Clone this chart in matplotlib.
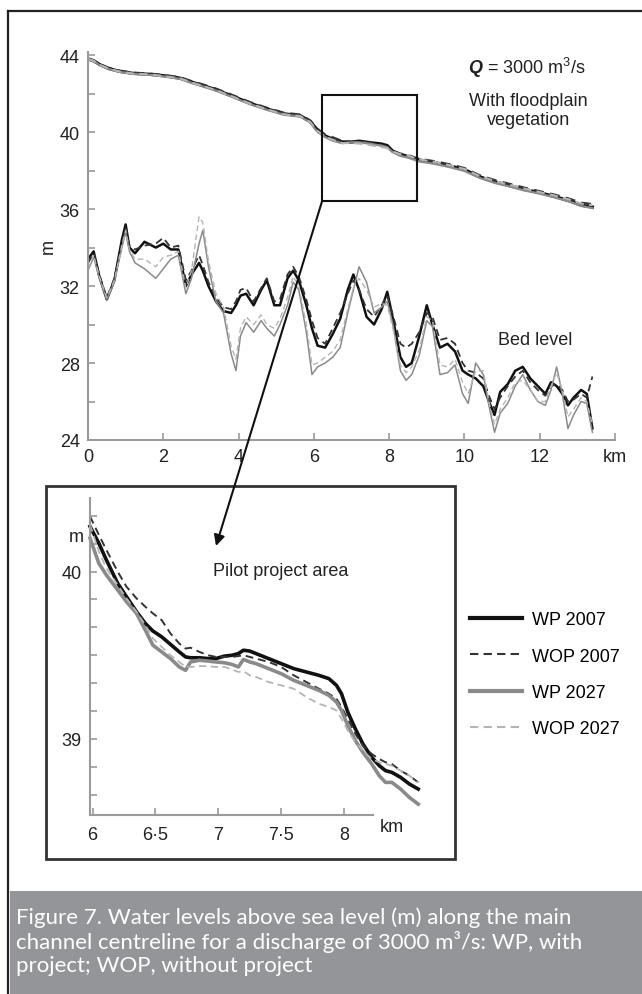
import matplotlib
matplotlib.use("Agg")
import matplotlib.pyplot as plt
import numpy as np
from matplotlib.patches import Rectangle, ConnectionPatch
from matplotlib.lines import Line2D
from matplotlib.ticker import MultipleLocator

plt.rcParams['font.family'] = ['Liberation Sans', 'DejaVu Sans']
plt.rcParams['mathtext.fontset'] = 'custom'
plt.rcParams['mathtext.rm'] = 'Liberation Sans'
plt.rcParams['mathtext.it'] = 'Liberation Sans:italic'
plt.rcParams['mathtext.bf'] = 'Liberation Sans:bold'
plt.rcParams['mathtext.bfit'] = 'Liberation Sans:italic:bold'

# ---- water levels, whole reach (km, m) ----
wl_km = [0.0, 0.15, 0.32, 0.55, 0.85, 1.2, 1.65, 2.05, 2.45, 2.75, 3.0, 3.4, 3.86, 4.3,
         4.76, 5.2, 5.64, 5.9, 6.1, 6.3, 6.5, 6.75, 7.0, 7.2, 7.5, 7.8, 7.95, 8.1, 8.3,
         8.5, 8.8, 9.2, 9.6, 10.0, 10.4, 10.8, 11.2, 11.6, 12.0, 12.4, 12.8, 13.1, 13.4]
wl_wp07 = [43.8, 43.7, 43.5, 43.3, 43.15, 43.05, 43.0, 42.92, 42.8, 42.6, 42.45, 42.2, 41.85,
           41.5, 41.2, 40.95, 40.85, 40.55, 40.1, 39.8, 39.63, 39.49, 39.48, 39.53, 39.45,
           39.38, 39.3, 39.0, 38.83, 38.74, 38.55, 38.42, 38.25, 38.05, 37.68, 37.42, 37.22,
           37.02, 36.85, 36.65, 36.42, 36.2, 36.1]
wl_wop07 = [43.82, 43.72, 43.52, 43.33, 43.18, 43.08, 43.03, 42.95, 42.84, 42.64, 42.5, 42.25,
            41.9, 41.55, 41.25, 41.0, 40.9, 40.6, 40.15, 39.86, 39.72, 39.53, 39.49, 39.5,
            39.44, 39.31, 39.23, 39.02, 38.87, 38.8, 38.6, 38.48, 38.32, 38.12, 37.75, 37.5,
            37.3, 37.1, 36.92, 36.74, 36.52, 36.32, 36.25]
wl_wp27 = [43.78, 43.68, 43.47, 43.27, 43.12, 43.02, 42.97, 42.88, 42.76, 42.55, 42.4, 42.15,
           41.8, 41.45, 41.15, 40.9, 40.8, 40.5, 40.0, 39.74, 39.55, 39.42, 39.46, 39.47,
           39.39, 39.29, 39.2, 38.95, 38.76, 38.67, 38.47, 38.35, 38.18, 37.98, 37.62, 37.36,
           37.17, 36.96, 36.8, 36.6, 36.38, 36.16, 36.05]
wl_wop27 = [43.8, 43.7, 43.49, 43.3, 43.14, 43.04, 42.99, 42.9, 42.79, 42.58, 42.43, 42.18,
            41.83, 41.48, 41.18, 40.93, 40.83, 40.52, 40.05, 39.76, 39.6, 39.43, 39.43, 39.4,
            39.32, 39.21, 39.17, 38.98, 38.85, 38.78, 38.58, 38.45, 38.28, 38.08, 37.72, 37.46,
            37.26, 37.06, 36.88, 36.7, 36.48, 36.28, 36.2]

# ---- bed levels ----
bed_km = [0.0, 0.15, 0.3, 0.5, 0.7, 0.9, 1.0, 1.1, 1.25, 1.5, 1.8, 2.0, 2.2, 2.4, 2.6, 2.75,
          2.95, 3.05, 3.2, 3.4, 3.6, 3.8, 3.93, 4.05, 4.2, 4.4, 4.6, 4.75, 4.95, 5.1, 5.3,
          5.45, 5.6, 5.8, 5.95, 6.1, 6.3, 6.5, 6.7, 6.9, 7.05, 7.2, 7.4, 7.6, 7.8, 7.95, 8.1,
          8.3, 8.45, 8.6, 8.8, 9.0, 9.15, 9.35, 9.55, 9.75, 9.95, 10.1, 10.3, 10.5, 10.65,
          10.8, 10.95, 11.15, 11.35, 11.55, 11.75, 11.95, 12.15, 12.3, 12.45, 12.6, 12.75,
          12.9, 13.1, 13.25, 13.4]
bed_wp07 = [33.4, 33.8, 32.5, 31.3, 32.3, 34.4, 35.2, 34.0, 33.7, 34.3, 34.0, 34.2, 33.9, 33.9,
            32.0, 32.6, 33.2, 32.8, 32.0, 31.2, 30.7, 30.6, 31.0, 31.5, 31.6, 31.0, 31.8, 32.3,
            31.0, 31.0, 32.4, 32.8, 32.3, 31.0, 29.8, 28.9, 28.8, 29.5, 30.3, 31.8, 32.6, 31.8,
            30.4, 30.0, 30.8, 31.7, 30.3, 28.3, 27.8, 28.0, 29.4, 31.0, 30.0, 28.8, 29.0, 28.6,
            27.6, 27.4, 27.2, 26.8, 26.0, 25.3, 26.5, 26.9, 27.6, 27.8, 27.2, 26.8, 26.4, 27.0,
            26.8, 26.4, 25.8, 26.2, 26.6, 26.4, 24.6]
bed_wop07 = [33.2, 33.7, 32.6, 31.4, 32.4, 34.2, 35.0, 34.1, 33.9, 34.1, 34.2, 34.5, 34.0, 34.1,
             32.3, 32.8, 33.6, 33.1, 32.2, 31.4, 30.9, 30.8, 31.2, 31.8, 31.9, 31.2, 31.9, 32.4,
             31.2, 31.3, 32.6, 33.0, 32.5, 31.3, 30.2, 29.3, 29.0, 29.8, 30.6, 31.6, 32.3, 31.8,
             30.8, 30.4, 31.0, 31.5, 30.5, 29.0, 28.8, 29.0, 29.6, 30.6, 30.4, 29.2, 29.3, 29.0,
             28.0, 27.6, 27.5, 27.2, 26.3, 25.6, 26.2, 26.8, 27.3, 27.6, 27.0, 26.6, 26.3, 26.8,
             26.9, 26.6, 26.0, 26.1, 26.4, 26.2, 27.3]
bed_wp27 = [32.8, 33.5, 32.4, 31.3, 32.2, 34.0, 34.8, 33.8, 33.2, 32.9, 32.4, 32.9, 33.4, 33.6,
            31.6, 32.4, 34.2, 34.9, 33.0, 31.2, 30.6, 28.5, 27.6, 29.4, 30.1, 29.6, 30.2, 29.8,
            29.4, 30.0, 31.0, 32.2, 31.8, 29.6, 27.4, 27.8, 28.0, 28.3, 28.8, 30.6, 31.8, 33.0,
            32.2, 30.6, 30.9, 31.2, 30.0, 27.6, 27.1, 27.4, 28.4, 30.2, 29.9, 27.4, 27.5, 27.9,
            26.4, 25.9, 28.0, 27.4, 25.8, 24.4, 25.4, 25.9, 26.8, 27.4, 26.6, 26.0, 25.8, 26.6,
            27.8, 26.4, 24.6, 25.3, 26.0, 25.9, 24.4]
bed_wop27 = [32.9, 33.6, 32.5, 31.4, 32.3, 34.1, 34.9, 33.9, 33.4, 33.4, 33.0, 33.5, 33.6, 33.8,
             31.9, 32.8, 35.6, 35.3, 33.3, 31.6, 30.9, 28.9, 28.2, 29.8, 30.4, 30.0, 30.5, 30.0,
             29.8, 30.3, 31.4, 32.5, 32.0, 30.0, 27.9, 28.0, 28.3, 28.6, 29.2, 30.8, 31.9, 32.4,
             31.8, 30.9, 31.1, 31.0, 29.8, 27.9, 27.5, 27.8, 28.7, 30.4, 30.2, 27.9, 27.8, 28.2,
             27.0, 26.4, 27.6, 27.6, 26.0, 24.8, 25.6, 26.2, 27.0, 27.1, 26.6, 26.0, 26.0, 26.8,
             27.5, 26.6, 25.2, 25.6, 26.2, 26.0, 24.8]

# ---- pilot project area detail ----
pil_km = [5.98, 6.05, 6.11, 6.2, 6.27, 6.35, 6.42, 6.48, 6.55, 6.62, 6.69, 6.74, 6.78, 6.85,
          6.92, 6.98, 7.05, 7.11, 7.16, 7.2, 7.25, 7.3, 7.4, 7.5, 7.6, 7.7, 7.8, 7.88, 7.94,
          7.98, 8.03, 8.09, 8.15, 8.22, 8.28, 8.33, 8.38, 8.45, 8.52, 8.59]
pil_wp07 = [40.27, 40.17, 40.07, 39.93, 39.85, 39.76, 39.69, 39.645, 39.61, 39.565, 39.52, 39.49,
            39.485, 39.485, 39.48, 39.48, 39.495, 39.5, 39.51, 39.53, 39.525, 39.51, 39.48,
            39.45, 39.42, 39.4, 39.38, 39.36, 39.32, 39.27, 39.16, 39.06, 38.97, 38.89, 38.84,
            38.81, 38.8, 38.77, 38.73, 38.7]
pil_wop07 = [40.33, 40.22, 40.13, 40.0, 39.91, 39.84, 39.79, 39.75, 39.71, 39.63, 39.57, 39.54,
             39.545, 39.52, 39.5, 39.49, 39.49, 39.49, 39.495, 39.5, 39.49, 39.48, 39.46, 39.43,
             39.38, 39.34, 39.3, 39.27, 39.24, 39.19, 39.12, 39.03, 38.96, 38.91, 38.88, 38.86,
             38.85, 38.81, 38.78, 38.74]
pil_wp27 = [40.2, 40.05, 39.98, 39.89, 39.82, 39.75, 39.65, 39.56, 39.52, 39.48, 39.43, 39.41,
            39.46, 39.47, 39.465, 39.46, 39.455, 39.445, 39.43, 39.475, 39.46, 39.45, 39.42,
            39.39, 39.35, 39.32, 39.29, 39.26, 39.22, 39.17, 39.08, 38.99, 38.92, 38.85, 38.78,
            38.74, 38.74, 38.7, 38.65, 38.61]
pil_wop27 = [40.28, 40.12, 40.02, 39.92, 39.84, 39.76, 39.68, 39.6, 39.55, 39.5, 39.46, 39.43,
             39.43, 39.435, 39.435, 39.43, 39.43, 39.415, 39.4, 39.405, 39.38, 39.37, 39.34,
             39.32, 39.3, 39.25, 39.21, 39.19, 39.17, 39.12, 39.05, 38.98, 38.93, 38.88, 38.86,
             38.85, 38.84, 38.81, 38.78, 38.74]

labels = ['WP 2007', 'WOP 2007', 'WP 2027', 'WOP 2027']
styles = [dict(color='#111111', ls='-'), dict(color='#333333', ls=(0, (4, 2.5))),
          dict(color='#8a8a8a', ls='-'), dict(color='#b4b4b4', ls=(0, (4, 2.5)))]

W, H = 642, 995
fig = plt.figure(figsize=(W / 100, H / 100), dpi=100)

def fx(px):
    return px / W

def fy(py):
    return 1 - py / H

axis_grey = '#9a9a9a'

def style_axes(ax):
    for s in ['top', 'right']:
        ax.spines[s].set_visible(False)
    for s in ['left', 'bottom']:
        ax.spines[s].set_color(axis_grey)
        ax.spines[s].set_linewidth(1.5)
    ax.tick_params(which='both', direction='in', length=5, width=1.2, color=axis_grey,
                   labelsize=13, labelcolor='#222222', pad=6)

# ---- main profile ----
ax = fig.add_axes([fx(88), fy(441), fx(615) - fx(88), fy(53) - fy(441)])
style_axes(ax)
ax.set_xlim(0, 14)
ax.set_ylim(24, 44.16)
ax.spines['left'].set_bounds(24, 44.16)
ax.set_xticks(np.arange(0, 15, 2))
ax.set_xticklabels(['0', '2', '4', '6', '8', '10', '12', 'km'])
ax.set_yticks(np.arange(24, 45, 4))
ax.yaxis.set_minor_locator(MultipleLocator(2))
ax.set_ylabel('m', fontsize=13, color='#222222')
ax.yaxis.set_label_coords(fx(50) - fx(88), 0.5)

lws_top = [1.8, 1.3, 1.1, 1.0]
for ys, st, lw in zip([wl_wp07, wl_wop07, wl_wp27, wl_wop27], styles, lws_top):
    ax.plot(wl_km, ys, lw=lw + 0.5, **st)
for ys, st, lw in zip([bed_wp07, bed_wop07, bed_wp27, bed_wop27], styles, lws_top):
    ax.plot(bed_km, ys, lw=lw, **st)

ax.text(11.67, 43.4, r'$\mathbfit{Q}$ = 3000 m$^3$/s', fontsize=13, ha='center', va='center',
        color='#222222')
ax.text(11.7, 41.14, 'With floodplain\nvegetation', fontsize=13, ha='center', va='center',
        linespacing=1.15, color='#222222')
ax.text(11.88, 29.2, 'Bed level', fontsize=13, ha='center', va='center', color='#222222')

# zoom window and arrow to the detail panel
box_x0, box_x1 = 6.22, 8.75
box_y0, box_y1 = 36.42, 41.92
ax.add_patch(Rectangle((box_x0, box_y0), box_x1 - box_x0, box_y1 - box_y0, fill=False,
                       lw=1.5, ec='#111111', zorder=5))
fig.add_artist(ConnectionPatch(xyA=(box_x0, box_y0), coordsA=ax.transData,
                               xyB=(fx(216), fy(547)), coordsB=fig.transFigure,
                               arrowstyle='-|>', mutation_scale=16, lw=1.5, color='#111111',
                               zorder=6))

# ---- detail panel ----
fig.add_artist(Rectangle((fx(46), fy(860)), fx(455) - fx(46), fy(487) - fy(860), fill=False,
                         lw=2, ec='#333333', transform=fig.transFigure))
ax2 = fig.add_axes([fx(90), fy(816), fx(422) - fx(90), fy(499) - fy(816)])
style_axes(ax2)
ax2.set_xlim(5.98, 8.62)
ax2.set_ylim(38.545, 40.44)
ax2.spines['bottom'].set_bounds(5.98, 8.23)
ax2.set_xticks([6, 6.5, 7, 7.5, 8])
ax2.set_xticklabels(['6', '6·5', '7', '7·5', '8'])
ax2.set_yticks([39, 40])
ax2.yaxis.set_minor_locator(MultipleLocator(1 / 6))
ax2.tick_params(axis='x', pad=8)
lws_in = [2.6, 1.4, 2.6, 1.3]
for ys, st, lw in zip([pil_wp07, pil_wop07, pil_wp27, pil_wop27], styles, lws_in):
    ax2.plot(pil_km, ys, lw=lw, clip_on=False, **st)
fig.text(fx(76), fy(537), 'm', fontsize=13, ha='center', va='center', color='#222222')
fig.text(fx(392), fy(828), 'km', fontsize=13, ha='center', va='center', color='#222222')
fig.text(fx(281), fy(572), 'Pilot project area', fontsize=13, ha='center', va='center',
         color='#222222')

handles = [Line2D([], [], lw=lw, **st) for st, lw in zip(styles, [3, 1.5, 3, 1.5])]
fig.legend(handles, labels, loc='upper left', bbox_to_anchor=(fx(470), fy(612)),
           frameon=False, fontsize=13, handlelength=2.9, handletextpad=0.55,
           labelspacing=1.08, borderpad=0, borderaxespad=0)

# ---- page frame and caption ----
fig.add_artist(Line2D([fx(8), 1.0], [fy(12), fy(12)], lw=1.6, color='#222222',
                      transform=fig.transFigure))
fig.add_artist(Line2D([fx(8), fx(8)], [0, fy(12)], lw=1.6, color='#222222',
                      transform=fig.transFigure))
fig.add_artist(Rectangle((fx(10), 0), 1.0, fy(892), color='#939598', lw=0,
                         transform=fig.transFigure))
caption = ['Figure 7. Water levels above sea level (m) along the main',
           'channel centreline for a discharge of 3000 m³/s: WP, with',
           'project; WOP, without project']
for i, line in enumerate(caption):
    fig.text(fx(16), fy(918 + 24 * i), line, fontsize=16, color='white', ha='left',
             va='center', family=['Lato', 'DejaVu Sans'])

fig.savefig('out.png', dpi=100)
